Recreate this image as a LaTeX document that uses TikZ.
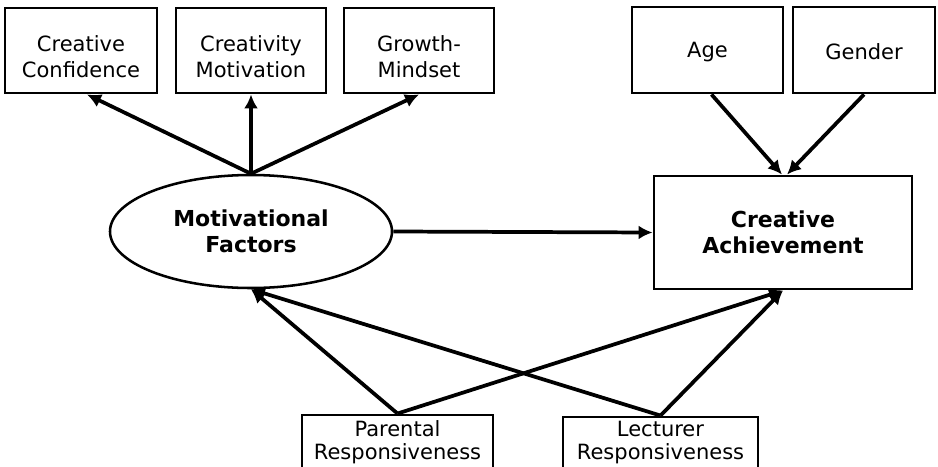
\documentclass[tikz,border=0pt]{standalone}
\usepackage{fontspec}
\setmainfont{DejaVu Sans}
\usetikzlibrary{arrows.meta,shapes.geometric,calc}
\newcommand\tallrule[1]{\rule{0pt}{#1}}
\begin{document}
\begin{tikzpicture}[x=0.75pt,y=-0.75pt,
  box/.style={draw, line width=2.2pt, rectangle, inner sep=0pt, align=center,
    font=\fontsize{15.75}{19.5}\selectfont},
  lowbox/.style={box, font=\fontsize{15.75}{17.25}\selectfont},
  bigbox/.style={box, font=\fontsize{16.5}{19.5}\selectfont\bfseries},
  oval/.style={draw, line width=1.9pt, ellipse, inner sep=0pt, align=center,
    font=\fontsize{16.5}{19.5}\selectfont\bfseries},
  arr/.style={line width=2.8pt, -{Latex[length=10.5pt,width=10.5pt]}}]
\useasboundingbox (0,0) rectangle (938,467);
% top left boxes
\node[box, minimum width=114pt, minimum height=63.75pt] (cc) at (81,50.5) {\tallrule{21pt}Creative\\Confidence};
\node[box, minimum width=112.5pt, minimum height=63.75pt] (cm) at (251,50.5) {\tallrule{21pt}Creativity\\Motivation};
\node[box, minimum width=112.5pt, minimum height=63.75pt] (gm) at (419,50.5) {\tallrule{21pt}Growth-\\Mindset};
% top right boxes
\node[box, minimum width=113.25pt, minimum height=64.5pt] (age) at (707.5,50) {\tallrule{15pt}Age};
\node[box, minimum width=106.5pt, minimum height=64.5pt] (gen) at (864,50) {\tallrule{15pt}Gender};
% central
\node[oval, minimum width=211.5pt, minimum height=84.75pt] (mf) at (251,231.5) {Motivational\\Factors};
\node[bigbox, minimum width=193.5pt, minimum height=84.75pt] (ca) at (783,232.5) {Creative\\Achievement};
% bottom boxes
\node[lowbox, minimum width=143.25pt, minimum height=40.5pt] (pr) at (397.5,442) {Parental\\Responsiveness};
\node[lowbox, minimum width=146.25pt, minimum height=39pt] (le) at (660.5,443) {Lecturer\\Responsiveness};
% arrows
\draw[arr] (mf.north) -- ($(cc.south)+(6,0)$);
\draw[arr] (mf.north) -- (cm.south);
\draw[arr] (mf.north) -- (gm.south);
\draw[arr] ($(age.south)+(4,0)$) -- ($(ca.north)+(-1,0)$);
\draw[arr] (gen.south) -- ($(ca.north)+(4,0)$);
\draw[arr] (mf.east) -- (ca.west);
\draw[arr] (pr.north) -- (mf.south);
\draw[arr] (pr.north) -- (ca.south);
\draw[arr] (le.north) -- (mf.south);
\draw[arr] (le.north) -- (ca.south);
\end{tikzpicture}
\end{document}
